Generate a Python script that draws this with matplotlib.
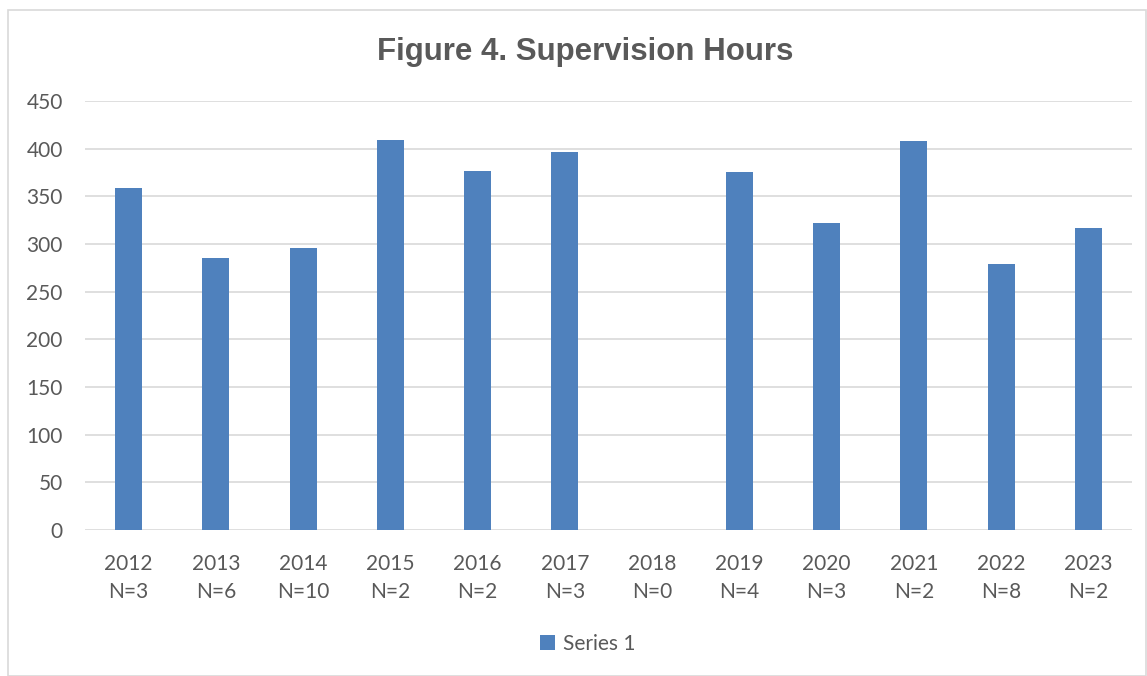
import matplotlib
matplotlib.use("Agg")
import matplotlib.pyplot as plt
from matplotlib.patches import Rectangle

years = ["2012", "2013", "2014", "2015", "2016", "2017", "2018", "2019", "2020", "2021", "2022", "2023"]
n_counts = [3, 6, 10, 2, 2, 3, 0, 4, 3, 2, 8, 2]
hours = [359, 285, 296, 409, 377, 397, 0, 376, 322, 408, 279, 317]
y_ticks = [0, 50, 100, 150, 200, 250, 300, 350, 400, 450]

W, H = 1147, 676
fig = plt.figure(figsize=(W / 100, H / 100), dpi=100)
fig.patch.set_facecolor("white")

# outer chart border
fig.add_artist(Rectangle((8 / W, 0), (W - 9) / W, 1 - 10 / H, transform=fig.transFigure,
                         fill=False, edgecolor="#D9D9D9", linewidth=1.2))

ax = fig.add_axes([85 / W, 1 - 530 / H, (1132 - 85) / W, (530 - 101) / H])
labels = [f"{y}\nN={n}" for y, n in zip(years, n_counts)]
x = list(range(len(years)))
bars = ax.bar(x, hours, width=0.31, color="#4F81BD", label="Series 1", zorder=3)

ax.set_xlim(-0.5, len(years) - 0.5)
ax.set_ylim(0, 450)
ax.set_yticks(y_ticks)
ax.set_xticks(x)
ax.set_xticklabels(labels)
txt_color = "#595959"
for lab in ax.get_xticklabels() + ax.get_yticklabels():
    lab.set_fontfamily("Lato")
    lab.set_fontsize(15)
    lab.set_color(txt_color)
for lab in ax.get_xticklabels():
    lab.set_linespacing(1.5)
ax.tick_params(axis="both", length=0)
ax.tick_params(axis="x", pad=17)
ax.tick_params(axis="y", pad=16)
ax.grid(axis="y", color="#D9D9D9", linewidth=1.2, zorder=0)
for s in ax.spines.values():
    s.set_visible(False)

fig.text(585 / W, 1 - 52 / H, "Figure 4. Supervision Hours", ha="center", va="center",
         fontsize=22.5, fontweight="bold", color=txt_color, family="Liberation Sans")

leg = fig.legend(handles=[bars], labels=["Series 1"], loc="center", bbox_to_anchor=(588 / W, 1 - 644 / H),
                 frameon=False, prop={"family": "Lato", "size": 15}, handlelength=0.7, handleheight=0.7,
                 handletextpad=0.4)
for t in leg.get_texts():
    t.set_color(txt_color)

fig.savefig("out.png", dpi=100, facecolor="white")
